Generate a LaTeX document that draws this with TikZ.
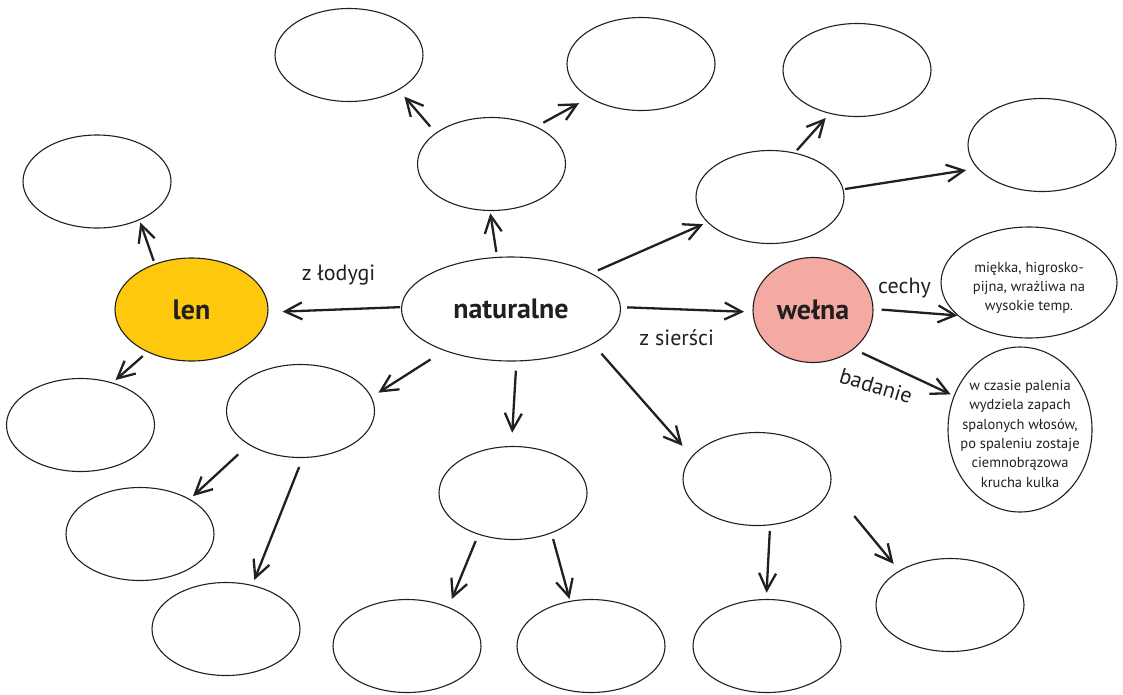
\documentclass[tikz,border=0pt]{standalone}
\usepackage{fontspec}
\setmainfont{PT Sans}
\usetikzlibrary{shapes.geometric,arrows.meta}
\definecolor{ink}{RGB}{35,31,32}
\definecolor{flax}{RGB}{254,200,12}
\definecolor{wool}{RGB}{245,169,163}
\begin{document}
\begin{tikzpicture}[x=1pt,y=-1pt,
  bubble/.style={ellipse,draw=ink,line width=1.1pt,inner sep=0pt,outer sep=0pt,
                 minimum width=148pt,minimum height=93pt},
  key/.style={text=ink,font=\fontsize{28}{32}\selectfont\bfseries},
  arr/.style={draw=ink,line width=2.3pt,-{Straight Barb[length=17pt,width=17pt]}},
  lbl/.style={text=ink,font=\fontsize{22}{26}\selectfont,inner sep=0pt,anchor=base},
  note/.style={text=ink,align=center,font=\fontsize{14.5}{19.3}\selectfont,inner sep=0pt},
]
\useasboundingbox (0,0) rectangle (1123,694);

% empty bubbles
\node[bubble] (e1) at (349,55) {};
\node[bubble] (e2) at (641,64) {};
\node[bubble] (e3) at (857,70) {};
\node[bubble] (e4) at (1042,145) {};
\node[bubble] (e5) at (97,181.5) {};
\node[bubble] (e6) at (491.5,164) {};
\node[bubble] (e7) at (770,197) {};
\node[bubble] (e13) at (80.5,425) {};
\node[bubble] (e14) at (300.5,411) {};
\node[bubble] (e15) at (513,493) {};
\node[bubble] (e16) at (757,479) {};
\node[bubble] (e17) at (140,534) {};
\node[bubble] (e18) at (226,629) {};
\node[bubble] (e19) at (407,646) {};
\node[bubble] (e20) at (591,646) {};
\node[bubble] (e21) at (767,646) {};
\node[bubble] (e22) at (950,605) {};

% key bubbles
\node[bubble,key,minimum width=219pt,minimum height=104pt] (nat) at (511,309) {naturalne};
\node[bubble,key,fill=flax,minimum width=153pt,minimum height=103pt] (len) at (191.5,309.5) {len};
\node[bubble,key,fill=wool,minimum width=120pt,minimum height=105pt] (wel) at (813,310) {wełna};

% description bubbles
\node[bubble,minimum width=176pt,minimum height=111pt] (e11) at (1029,282.5) {};
\node[note,yshift=-5.5pt] (t11) at (e11) {miękka, higrosko-\\pijna, wrażliwa na\\wysokie temp.};
\node[bubble,minimum width=144pt,minimum height=165pt] (e12) at (1020,429.5) {};
\node[note,yshift=-4.3pt] (t12) at (e12) {w czasie palenia\\wydziela zapach\\spalonych włosów,\\po spaleniu zostaje\\ciemnobrązowa\\krucha kulka};

% connector labels
\node[lbl] (lz) at (338.5,280.7) {z łodygi};
\node[lbl] (ls) at (676.7,345) {z sierści};
\node[lbl] (lc) at (904.5,293) {cechy};
\node[lbl,anchor=center,rotate=-17] (lb) at (876,386) {badanie};

% arrows
\draw[arr,shorten <=5.5pt,shorten >=2.8pt] (nat.105) -- (e6.-92);
\draw[arr,shorten <=8.9pt,shorten >=9.2pt] (e6.151) -- (e1.-35);
\draw[arr,shorten <=8.5pt,shorten >=12pt] (e6.40) -- (e2.-147);
\draw[arr,shorten <=7.6pt,shorten >=5pt] (nat.24) -- (e7.-158);
\draw[arr,shorten <=4pt,shorten >=6.3pt] (e7.61) -- (e3.-122);
\draw[arr,shorten <=2pt,shorten >=12pt] (e7.6) -- (e4.-160);
\draw[arr,shorten <=1.5pt,shorten >=14.7pt] (nat.179) -- (len.-2);
\draw[arr,shorten <=3.7pt,shorten >=3pt] (len.129) -- (e5.-42);
\draw[arr,shorten <=6.6pt,shorten >=4.4pt] (len.-136) -- (e13.53);
\draw[arr,shorten <=6.8pt,shorten >=9pt] (nat.1) -- (wel.-178);
\draw[arr,shorten <=8.7pt,shorten >=0.8pt] (wel.1) -- (e11.-155);
\draw[arr,shorten <=9.7pt,shorten >=3.8pt] (wel.-44) -- (e12.153);
\draw[arr,shorten <=16.8pt,shorten >=8.6pt] (nat.-148) -- (e14.11);
\draw[arr,shorten <=9.8pt,shorten >=13.8pt] (nat.-84) -- (e15.92);
\draw[arr,shorten <=13.3pt,shorten >=14.5pt] (nat.-23) -- (e16.161);
\draw[arr,shorten <=14.6pt,shorten >=4.8pt] (e14.-147) -- (e17.35);
\draw[arr,shorten <=10.2pt,shorten >=5.9pt] (e14.-87) -- (e18.59);
\draw[arr,shorten <=7.5pt,shorten >=9.1pt] (e15.-130) -- (e19.43);
\draw[arr,shorten <=6.5pt,shorten >=2.5pt] (e15.-46) -- (e20.115);
\draw[arr,shorten <=6.2pt,shorten >=6.8pt] (e16.-74) -- (e21.91);
\draw[arr,shorten <=38pt,shorten >=9.3pt] (e16.-6) -- (e22.146);
\end{tikzpicture}
\end{document}
